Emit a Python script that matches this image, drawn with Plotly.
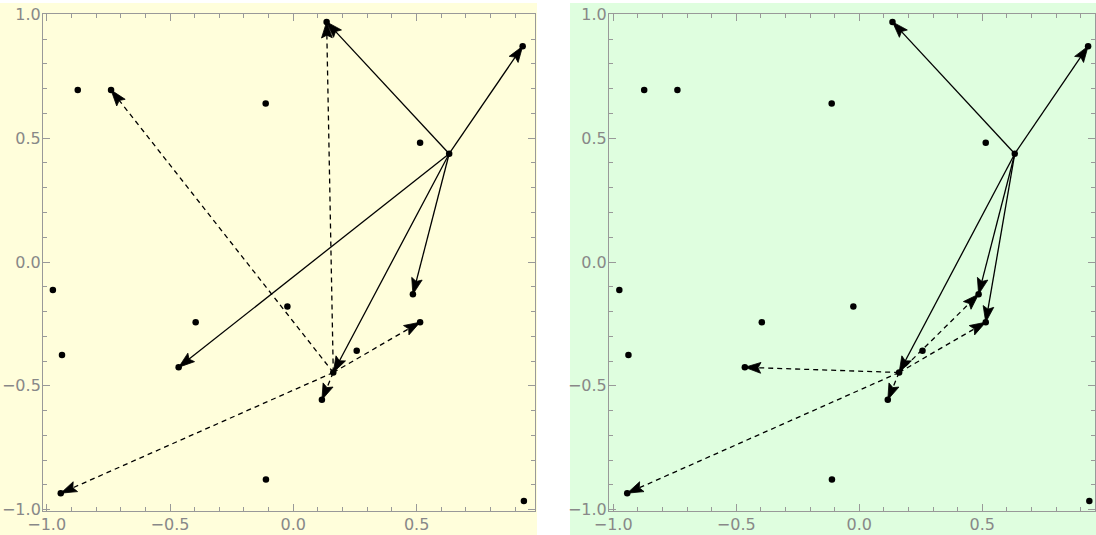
import numpy as np
import plotly.graph_objects as go

# ---- data ----
pts_x = [-0.874, -0.739, -0.112, 0.135, 0.930, 0.514, 0.632, -0.975, -0.938, -0.396,
         -0.024, -0.465, -0.943, -0.111, 0.485, 0.514, 0.257, 0.162, 0.116, 0.935]
pts_y = [0.694, 0.694, 0.640, 0.969, 0.871, 0.481, 0.437, -0.113, -0.375, -0.243,
         -0.180, -0.425, -0.933, -0.878, -0.130, -0.243, -0.358, -0.446, -0.556, -0.965]

hub_solid = 6      # source of solid arrows
hub_dashed = 17    # source of dashed arrows

left_solid_targets = [3, 4, 11, 17, 14]
left_dashed_targets = [1, 3, 12, 15, 18]
right_solid_targets = [3, 4, 17, 14, 15]
right_dashed_targets = [11, 12, 14, 15, 18]

tick_vals = [-1.0, -0.5, 0.0, 0.5, 1.0]

# ---- layout geometry ----
W, H = 1096, 535
panels = [
    dict(xpx=(43, 535), xr=(-1.015, 0.98), bg="#FFFEDB", bgx=(0, 537),
         solid=left_solid_targets, dashed=left_dashed_targets),
    dict(xpx=(609, 1095), xr=(-1.017, 0.958), bg="#DFFEDF", bgx=(570, 1096),
         solid=right_solid_targets, dashed=right_dashed_targets),
]
ypx = (14, 511)
yr = (-1.005, 1.001)

GRAY = "#999999"
LABEL = "#888888"

fig = go.Figure()
shapes = []

for i, p in enumerate(panels):
    n = "" if i == 0 else str(i + 1)
    xa, ya = "x" + n, "y" + n
    sx = (p["xpx"][1] - p["xpx"][0]) / (p["xr"][1] - p["xr"][0])
    sy = (ypx[1] - ypx[0]) / (yr[1] - yr[0])

    shapes.append(dict(type="rect", xref="paper", yref="paper",
                       x0=p["bgx"][0] / W, x1=p["bgx"][1] / W,
                       y0=0, y1=1 - 3 / H, fillcolor=p["bg"], line_width=0,
                       layer="below"))

    head_x, head_y = [], []

    def add_arrows(src, targets, dash):
        for t in targets:
            x0, y0 = pts_x[src], pts_y[src]
            x1, y1 = pts_x[t], pts_y[t]
            fig.add_trace(go.Scatter(x=[x0, x1], y=[y0, y1], mode="lines",
                                     line=dict(color="black", width=1.3, dash=dash),
                                     xaxis=xa, yaxis=ya, showlegend=False,
                                     hoverinfo="skip"))
            # arrowhead polygon in pixel space -> data space
            dxp, dyp = (x1 - x0) * sx, (y1 - y0) * sy
            L = np.hypot(dxp, dyp)
            ux, uy = dxp / L, dyp / L
            vx, vy = -uy, ux
            hl, hw, notch = 16.0, 5.4, 13.2
            poly = [(0, 0), (-hl, hw), (-notch, 0), (-hl, -hw), (0, 0)]
            for a, b in poly:
                ox = a * ux + b * vx
                oy = a * uy + b * vy
                head_x.append(x1 + ox / sx)
                head_y.append(y1 + oy / sy)
            head_x.append(None)
            head_y.append(None)

    add_arrows(hub_solid, p["solid"], "solid")
    add_arrows(hub_dashed, p["dashed"], "5px,4px")

    fig.add_trace(go.Scatter(x=head_x, y=head_y, mode="lines", fill="toself",
                             fillcolor="black", line=dict(color="black", width=0.8),
                             xaxis=xa, yaxis=ya, showlegend=False, hoverinfo="skip"))
    fig.add_trace(go.Scatter(x=pts_x, y=pts_y, mode="markers",
                             marker=dict(color="black", size=6.5),
                             xaxis=xa, yaxis=ya, showlegend=False))

    axis_common = dict(
        tickvals=tick_vals, tickformat=".1f", ticks="inside", ticklen=7,
        tickcolor=GRAY, tickwidth=1, showline=True, linecolor=GRAY, linewidth=1,
        mirror="ticks", showgrid=False, zeroline=False, automargin=False,
        tickfont=dict(family="DejaVu Sans", size=16, color=LABEL),
        minor=dict(ticks="inside", tick0=0, dtick=0.1, ticklen=4, tickcolor=GRAY,
                   showgrid=False),
    )
    fig.update_layout({
        ("xaxis" + n): dict(axis_common, range=list(p["xr"]), anchor=ya,
                           ticklabelstandoff=-1,
                           domain=[p["xpx"][0] / W, p["xpx"][1] / W]),
        ("yaxis" + n): dict(axis_common, range=list(yr), anchor=xa,
                           ticklabelstandoff=-2,
                           domain=[1 - ypx[1] / H, 1 - ypx[0] / H]),
    })

fig.update_layout(width=W, height=H, margin=dict(l=0, r=0, t=0, b=0),
                  paper_bgcolor="white", plot_bgcolor="rgba(0,0,0,0)",
                  shapes=shapes, showlegend=False)

fig.write_html("out.html", config={"displayModeBar": False},
               post_script="document.body.style.margin='0';"
                           "document.body.style.overflow='hidden';")
